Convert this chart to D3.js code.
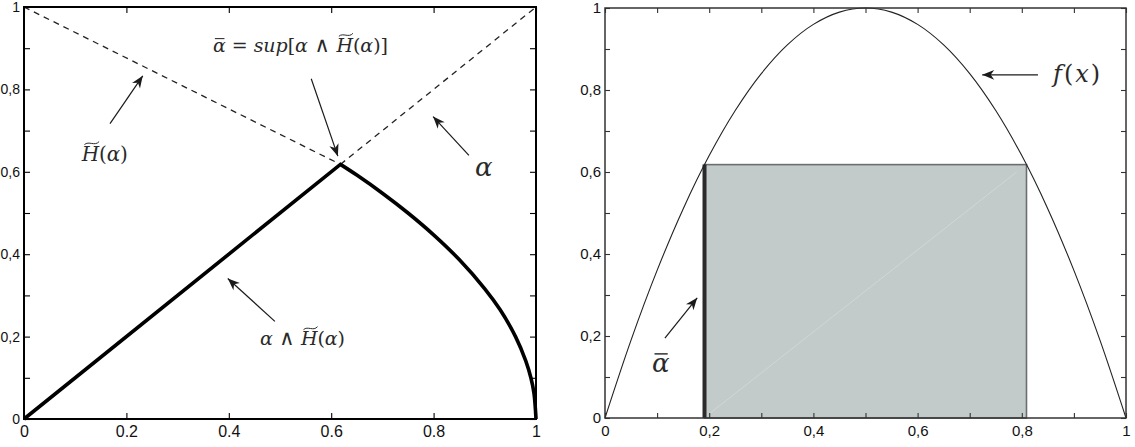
<!DOCTYPE html>
<html>
<head>
<meta charset="utf-8">
<script src="https://cdn.jsdelivr.net/npm/d3@7"></script>
<style>
body { margin: 0; background: #fff; }
svg { display: block; }
.tick text { font-family: "Liberation Sans", Arial, sans-serif; fill: #111; }
</style>
</head>
<body>
<svg id="chart" width="1135" height="447"></svg>
<script>
"use strict";

// ticks and labels
var tickVals = [0, 0.1, 0.2, 0.3, 0.4, 0.5, 0.6, 0.7, 0.8, 0.9, 1];
var majorVals = [0, 0.2, 0.4, 0.6, 0.8, 1];
var dotLabels = ["0", "0.2", "0.4", "0.6", "0.8", "1"];
var commaLabels = ["0", "0,2", "0,4", "0,6", "0,8", "1"];

// left panel: dashed H~(alpha) and alpha, thick alpha ^ H~(alpha)
var hDashed = [[0, 1], [0.618, 0.618]];
var alphaDashed = [[0.618, 0.618], [1, 1]];
var minRise = [[0, 0], [0.618, 0.618]];
var minFall = [[0.618, 0.618], [0.65, 0.592], [0.7, 0.548], [0.75, 0.5],
  [0.8, 0.447], [0.85, 0.387], [0.9, 0.316], [0.93, 0.265], [0.96, 0.2],
  [0.98, 0.141], [0.99, 0.1], [0.996, 0.063], [1, 0]];

// right panel: f(x) and the shaded box
var fx = [0, 0.05, 0.1, 0.15, 0.2, 0.25, 0.3, 0.35, 0.4, 0.45, 0.5,
  0.55, 0.6, 0.65, 0.7, 0.75, 0.8, 0.85, 0.9, 0.95, 1];
var fy = [0, 0.19, 0.36, 0.51, 0.64, 0.75, 0.84, 0.91, 0.96, 0.99, 1,
  0.99, 0.96, 0.91, 0.84, 0.75, 0.64, 0.51, 0.36, 0.19, 0];
var boxX = [0.191, 0.809];
var boxTop = 0.618;
var faintDiag = [[0.2, 0.01], [0.79, 0.6]];

// annotation arrows [from, to] in data units
var leftArrows = [
  [[0.168, 0.717], [0.232, 0.833]],
  [[0.561, 0.826], [0.613, 0.638]],
  [[0.869, 0.640], [0.799, 0.734]],
  [[0.490, 0.237], [0.398, 0.341]]
];
var rightArrows = [
  [[0.831, 0.837], [0.724, 0.837]],
  [[0.115, 0.195], [0.177, 0.293]]
];

var svg = d3.select("#chart");

var xL = d3.scaleLinear().domain([0, 1]).range([24, 536]);
var yL = d3.scaleLinear().domain([0, 1]).range([419, 7]);
var xR = d3.scaleLinear().domain([0, 1]).range([605, 1126]);
var yR = d3.scaleLinear().domain([0, 1]).range([418, 8]);

var defs = svg.append("defs");
defs.append("marker")
  .attr("id", "arr")
  .attr("viewBox", "-13 -6 14 12")
  .attr("refX", 0).attr("refY", 0)
  .attr("markerWidth", 14).attr("markerHeight", 12)
  .attr("markerUnits", "userSpaceOnUse")
  .attr("orient", "auto")
  .append("path")
  .attr("d", "M0,0 L-12,-4.8 L-8.5,0 L-12,4.8 Z")
  .attr("fill", "#1a1a1a");

function labelOf(labels) {
  return function (d) {
    var i = majorVals.findIndex(function (v) { return Math.abs(v - d) < 1e-9; });
    return i < 0 ? "" : labels[i];
  };
}

function drawAxes(x, y, xTicks, xLabels, yLabels, opt) {
  var g = svg.append("g");
  var tl = opt.tick;
  var ax = [
    [d3.axisBottom(x).tickValues(xTicks).tickSize(-tl).tickPadding(opt.xPad).tickFormat(labelOf(xLabels)), "translate(0," + y.range()[0] + ")", opt.xFont],
    [d3.axisTop(x).tickValues(xTicks).tickSize(-tl).tickFormat(""), "translate(0," + y.range()[1] + ")", opt.xFont],
    [d3.axisLeft(y).tickValues(tickVals).tickSize(-tl).tickPadding(opt.yPad).tickFormat(labelOf(yLabels)), "translate(" + x.range()[0] + ",0)", opt.yFont],
    [d3.axisRight(y).tickValues(tickVals).tickSize(-tl).tickFormat(""), "translate(" + x.range()[1] + ",0)", opt.yFont]
  ];
  ax.forEach(function (a) {
    var s = g.append("g").attr("transform", a[1]).call(a[0]);
    s.attr("font-size", a[2]);
    s.select(".domain").remove();
    s.selectAll(".tick line").attr("stroke", opt.color).attr("stroke-width", 1.1);
    s.selectAll(".tick text").style("font-size", a[2] + "px");
  });
  g.append("rect")
    .attr("x", x.range()[0]).attr("y", y.range()[1])
    .attr("width", x.range()[1] - x.range()[0])
    .attr("height", y.range()[0] - y.range()[1])
    .attr("fill", "none").attr("stroke", opt.color).attr("stroke-width", opt.frame);
  return g;
}

// LaTeX-like label: italic segments, optional bar / wide tilde, fitted to a width
function mathLabel(x, y, size, width, segs) {
  var t = svg.append("text")
    .attr("x", x).attr("y", y)
    .style("font-family", "'DejaVu Serif', 'Liberation Serif', serif")
    .style("font-size", size + "px")
    .style("white-space", "pre")
    .attr("fill", "#2a2a2a");
  var idx = 0, marks = [];
  segs.forEach(function (s) {
    var sp = t.append("tspan").text(s.t).style("font-style", s.it ? "italic" : "normal");
    if (s.sym) sp.style("font-size", (size * 1.1) + "px");
    if (s.deco) marks.push({ i: idx, deco: s.deco });
    idx += s.t.length;
  });
  if (width) {
    var L = t.node().getComputedTextLength();
    t.style("letter-spacing", ((width - L) / Math.max(1, idx - 1)) + "px");
  }
  marks.forEach(function (m) {
    var e = t.node().getExtentOfChar(m.i);
    if (m.deco === "bar") {
      var yb = y - size * 0.7;
      svg.append("line")
        .attr("x1", e.x + e.width * 0.15).attr("x2", e.x + e.width * 0.9)
        .attr("y1", yb).attr("y2", yb)
        .attr("stroke", "#2a2a2a").attr("stroke-width", Math.max(1, size / 18));
    } else {
      var yt = y - size * 0.9;
      var x0 = e.x + e.width * 0.15, x1 = e.x + e.width * 1.0, w = x1 - x0;
      svg.append("path")
        .attr("d", "M" + x0 + "," + (yt + 1.5) +
          " C" + (x0 + w * 0.3) + "," + (yt - 2.5) + " " + (x0 + w * 0.7) + "," + (yt + 3.5) +
          " " + x1 + "," + (yt - 1.5))
        .attr("fill", "none").attr("stroke", "#2a2a2a").attr("stroke-width", 1);
    }
  });
}

function drawArrows(list, x, y) {
  svg.append("g").selectAll("line").data(list).join("line")
    .attr("x1", function (d) { return x(d[0][0]); })
    .attr("y1", function (d) { return y(d[0][1]); })
    .attr("x2", function (d) { return x(d[1][0]); })
    .attr("y2", function (d) { return y(d[1][1]); })
    .attr("stroke", "#1a1a1a").attr("stroke-width", 1.2)
    .attr("marker-end", "url(#arr)");
}

// ---- left panel
var lineL = d3.line().x(function (d) { return xL(d[0]); }).y(function (d) { return yL(d[1]); });
var curveL = d3.line().x(function (d) { return xL(d[0]); }).y(function (d) { return yL(d[1]); }).curve(d3.curveCatmullRom);

svg.append("path").datum(hDashed).attr("d", lineL)
  .attr("fill", "none").attr("stroke", "#222").attr("stroke-width", 1.3).attr("stroke-dasharray", "6,5");
svg.append("path").datum(alphaDashed).attr("d", lineL)
  .attr("fill", "none").attr("stroke", "#222").attr("stroke-width", 1.3).attr("stroke-dasharray", "6,5");
svg.append("path")
  .attr("d", lineL(minRise) + curveL(minFall).replace(/^M/, "L"))
  .attr("fill", "none").attr("stroke", "#000").attr("stroke-width", 3.6).attr("stroke-linejoin", "miter");

drawAxes(xL, yL, majorVals, dotLabels, commaLabels, { tick: 6, xPad: 7, yPad: 4, xFont: 16, yFont: 14, color: "#000", frame: 2 });
drawArrows(leftArrows, xL, yL);

mathLabel(xL(0.113), yL(0.626), 20, 46, [{ t: "H", it: true, deco: "tilde" }, { t: "(" }, { t: "α", it: true }, { t: ")" }]);
mathLabel(xL(0.369), yL(0.891), 19, 175, [{ t: "α", it: true, deco: "bar" }, { t: " = " }, { t: "sup", it: true },
  { t: "[" }, { t: "α", it: true }, { t: " ∧ ", sym: true }, { t: "H", it: true, deco: "tilde" }, { t: "(" }, { t: "α", it: true }, { t: ")]" }]);
mathLabel(xL(0.881), yL(0.589), 26, 0, [{ t: "α", it: true }]);
mathLabel(xL(0.461), yL(0.179), 19, 85, [{ t: "α", it: true }, { t: " ∧ ", sym: true }, { t: "H", it: true, deco: "tilde" },
  { t: "(" }, { t: "α", it: true }, { t: ")" }]);

// ---- right panel
var fPts = fx.map(function (v, i) { return [v, fy[i]]; });
var lineR = d3.line().x(function (d) { return xR(d[0]); }).y(function (d) { return yR(d[1]); });

svg.append("rect")
  .attr("x", xR(boxX[0])).attr("y", yR(boxTop))
  .attr("width", xR(boxX[1]) - xR(boxX[0]))
  .attr("height", yR(0) - yR(boxTop))
  .attr("fill", "#c3cbca").attr("stroke", "#6a6e6e").attr("stroke-width", 1.6);
svg.append("path").datum(faintDiag).attr("d", lineR)
  .attr("fill", "none").attr("stroke", "#d3d9d8").attr("stroke-width", 0.8);
svg.append("line")
  .attr("x1", xR(boxX[0])).attr("x2", xR(boxX[0]))
  .attr("y1", yR(0)).attr("y2", yR(boxTop))
  .attr("stroke", "#2b2b2b").attr("stroke-width", 4);
svg.append("path").datum(fPts).attr("d", lineR.curve(d3.curveCatmullRom))
  .attr("fill", "none").attr("stroke", "#222").attr("stroke-width", 1.1);

drawAxes(xR, yR, tickVals, commaLabels, commaLabels, { tick: 5, xPad: 7, yPad: 4, xFont: 15, yFont: 15, color: "#333", frame: 1.5 });
drawArrows(rightArrows, xR, yR);

mathLabel(xR(0.860), yR(0.820), 24, 47, [{ t: "f", it: true }, { t: "(" }, { t: "x", it: true }, { t: ")" }]);
mathLabel(xR(0.090), yR(0.112), 26, 0, [{ t: "α", it: true, deco: "bar" }]);
</script>
</body>
</html>
